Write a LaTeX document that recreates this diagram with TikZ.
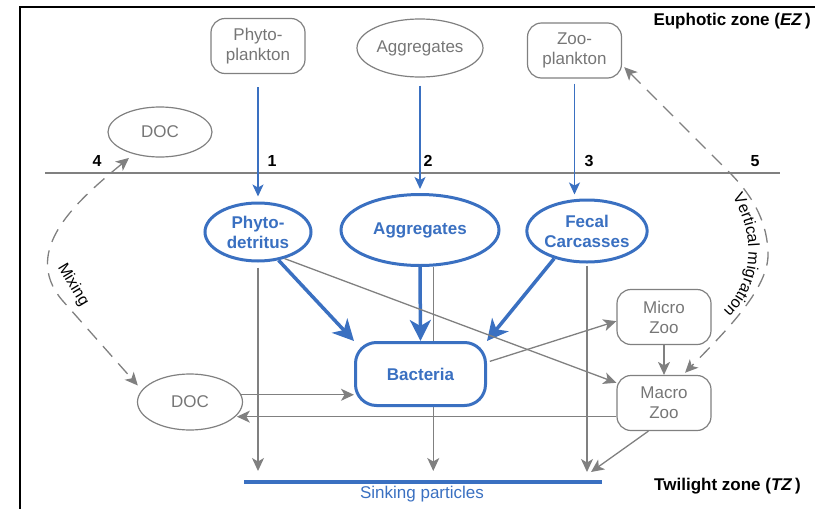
\documentclass[tikz,border=0pt]{standalone}
\usepackage{fontspec}
\setmainfont{Liberation Sans}
\usetikzlibrary{shapes.geometric,arrows.meta,calc,decorations.text}
\definecolor{bblue}{RGB}{58,112,193}
\definecolor{lgray}{RGB}{128,128,128}
\definecolor{tgray}{RGB}{118,118,118}
\begin{document}
\begin{tikzpicture}[x=1pt,y=-1pt,
  gtip/.tip={Stealth[length=13pt,width=12pt,inset=3.5pt]},
  gbox/.style={draw=lgray, line width=1.2pt, rounded corners=14pt, minimum width=94pt, minimum height=55pt, inner sep=0pt, text=tgray, align=center, font=\fontsize{17}{20}\selectfont},
  gell/.style={ellipse, draw=lgray, line width=1.2pt, inner sep=0pt, text=tgray, align=center, font=\fontsize{17}{20}\selectfont},
  bell/.style={ellipse, draw=bblue, line width=3pt, inner sep=0pt, text=bblue, align=center, fill=white, font=\bfseries\fontsize{17}{20}\selectfont},
  garrow/.style={draw=lgray, line width=1.3pt, -gtip},
  gdash/.style={draw=lgray, line width=1.3pt, dash pattern=on 14pt off 9pt, gtip-gtip},
  bthin/.style={draw=bblue, line width=1.3pt, -{Stealth[length=12pt,width=11pt,inset=3pt]}},
  bthick/.style={draw=bblue, line width=3.5pt, -{Stealth[length=21pt,width=21pt,inset=6pt]}},
  numlab/.style={font=\bfseries\fontsize{16}{16}\selectfont, inner sep=0pt},
  zonelab/.style={font=\bfseries\fontsize{17}{17}\selectfont, inner sep=0pt, anchor=base east}
]
\useasboundingbox (0,0) rectangle (815,509);
% frame
\coordinate (fb) at (20,509);
\coordinate (ftl) at (20,7);
\coordinate (ftr) at (815,7);
\draw[line width=1.6pt] (fb) -- (ftl) -- (ftr);
% zone divider
\coordinate (zl) at (45,173);
\coordinate (zr) at (780,173);
\draw[lgray, line width=1.5pt] (zl) -- (zr);

\node[zonelab] (ez) at (811,25) {Euphotic zone (\textit{EZ}\,)};
\node[zonelab] (tz) at (801,490) {Twilight zone (\textit{TZ}\,)};

\node[numlab] (n4) at (97,161) {4};
\node[numlab] (n1) at (272,161) {1};
\node[numlab] (n2) at (428,161) {2};
\node[numlab] (n3) at (589,161) {3};
\node[numlab] (n5) at (755,161) {5};

% euphotic nodes
\node[gbox] (phyto) at (258,46) {Phyto-\\plankton};
\node[gell, minimum width=126pt, minimum height=58pt] (aggtop) at (420,48) {Aggregates};
\node[gbox] (zoo) at (574.5,50.5) {Zoo-\\plankton};
\node[gell, minimum width=104pt, minimum height=50pt] (doc1) at (160,132) {DOC};

% twilight nodes
\node[bell, minimum width=106pt, minimum height=58pt] (pd) at (258,232) {Phyto-\\detritus};
\node[bell, minimum width=158pt, minimum height=71pt] (agg) at (420,230) {Aggregates};
\node[bell, minimum width=118pt, minimum height=62pt] (fec) at (587,231) {Fecal\\Carcasses};
\node[gell, minimum width=105pt, minimum height=56pt] (doc2) at (190,402) {DOC};
\node[gbox] (micro) at (664,317) {Micro\\Zoo};
\node[gbox] (macro) at (664,403) {Macro\\Zoo};

% sinking particles
\coordinate (sk) at (0,471);
\coordinate (sl) at (244,482);
\coordinate (sr) at (602,482);
\coordinate (s3) at (591,472);
\draw[bblue, line width=3.5pt] (sl) -- (sr);
\node[text=bblue, anchor=base, inner sep=0pt, font=\fontsize{17}{17}\selectfont] (sp) at (422,498) {Sinking particles};

% gray line behind bacteria
\draw[garrow, shorten <=1pt] (agg.-70) -- (agg.-70 |- sk);

\node[draw=bblue, line width=3pt, rounded corners=21pt, minimum width=130pt, minimum height=63pt, fill=white, text=bblue, font=\bfseries\fontsize{17}{20}\selectfont] (bact) at (420.5,374) {Bacteria};

% blue thin arrows into the twilight zone
\draw[bthin, shorten <=13pt, shorten >=5pt] (phyto.south) -- (pd.north);
\draw[bthin, shorten <=8pt, shorten >=4pt] (aggtop.south) -- (agg.north);
\draw[bthin, shorten <=5pt, shorten >=4pt] (zoo.south) -- (zoo.south |- fec.north);

% blue thick arrows to bacteria
\draw[bthick] (pd.-54) -- (bact.north west);
\draw[bthick] (agg.south) -- (bact.north);
\draw[bthick] (fec.-140) -- (bact.north east);

% gray arrows
\draw[garrow, shorten <=5pt] (pd.south) -- (pd.south |- sk);
\draw[garrow, shorten <=2pt] (fec.south) -- (fec.south |- s3);
\draw[garrow] (pd.-45) -- (macro.157);
\draw[garrow, shorten <=3pt] (bact.10) -- (micro.185);
\draw[garrow] (micro.south) -- (macro.north);
\draw[garrow] (macro.196) -- (doc2.-16 |- macro.196);
\draw[garrow] (doc2.8) -- (doc2.8 -| bact.west);
\draw[garrow] (macro.-119) -- (s3);

% mixing
\coordinate (mx) at (62,300);
\draw[gdash, shorten <=6pt, shorten >=6pt] (doc1.-140) .. controls (78,200) and (20,250) .. (mx) -- (doc2.166);
\node[rotate=-59, font=\fontsize{16}{16}\selectfont, inner sep=0pt] (mix) at (73,285) {Mixing};

% vertical migration
\coordinate (vm) at (729,172);
\coordinate (vmm) at (768,255);
\draw[gdash, shorten <=3pt, shorten >=3pt] (zoo.-17) -- (vm) .. controls (755,198) and (768,225) .. (vmm) .. controls (768,290) and (722,335) .. (macro.56);
\coordinate (vta) at (724,185);
\coordinate (vtb) at (712,320);
\path[decorate, decoration={text along path, text align=center, text color=black, text={|\fontsize{16}{16}\selectfont|Vertical migration}}] (vta) .. controls (756,225) and (761,285) .. (vtb);
\end{tikzpicture}
\end{document}
